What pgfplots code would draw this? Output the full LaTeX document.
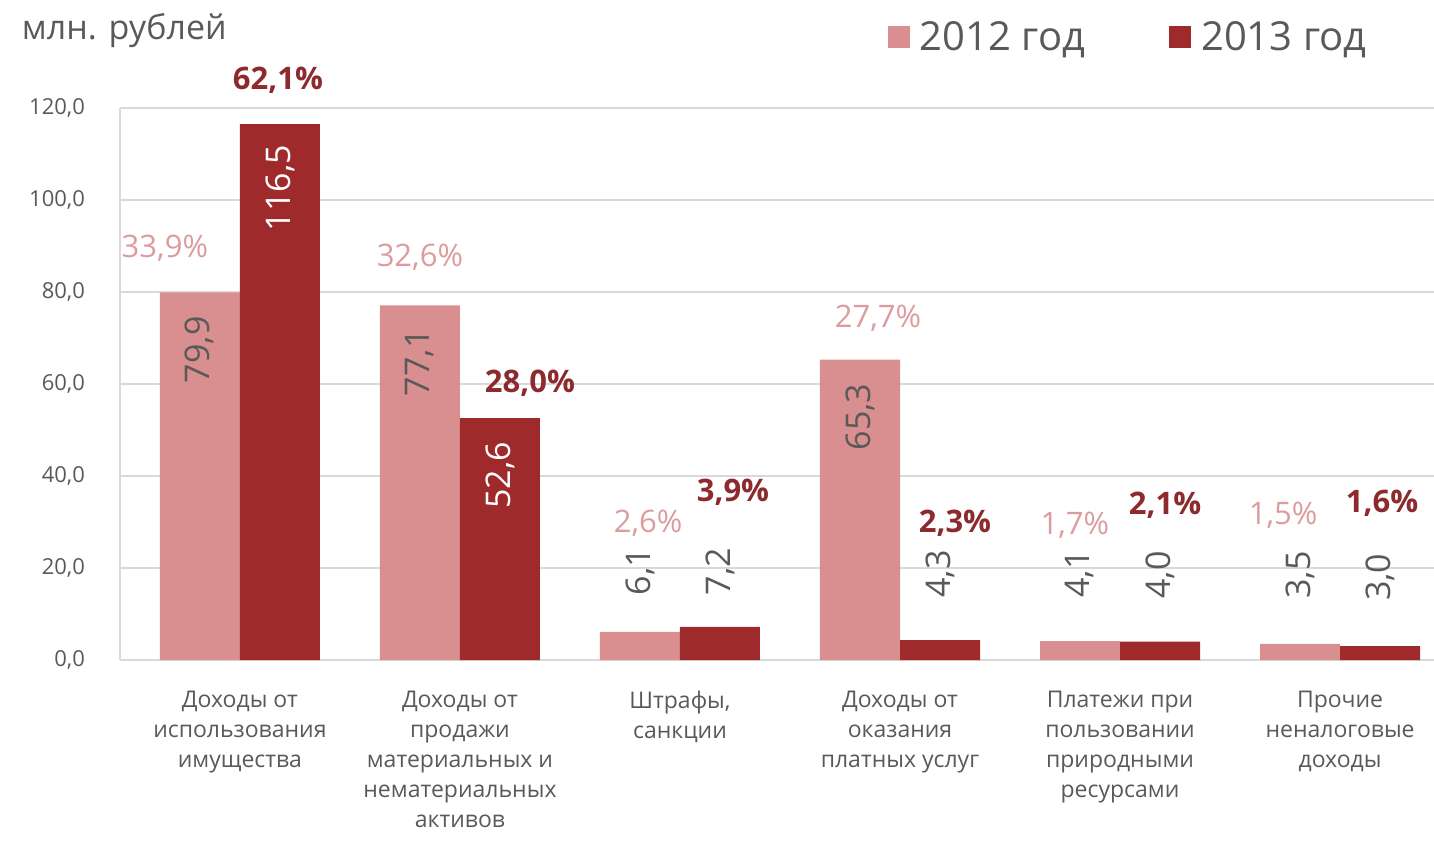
\documentclass[border=0pt]{standalone}
\usepackage{fontspec}
\setmainfont{Open Sans}
\usepackage{pgfplots}
\pgfplotsset{compat=1.18}
\definecolor{pinkbar}{HTML}{D98E8F}
\definecolor{redbar}{HTML}{9E2A2C}
\definecolor{pinklab}{HTML}{DC9C9D}
\definecolor{redlab}{HTML}{8C2A2E}
\definecolor{txtgray}{HTML}{595959}
\definecolor{gridgray}{HTML}{D9D9D9}
\begin{document}
\begin{tikzpicture}
\path[use as bounding box] (-60pt,-93pt) rectangle (657pt,330pt);
\begin{axis}[
  at={(0,0)}, anchor=south west,
  scale only axis, width=657pt, height=276pt,
  xmin=-0.545, xmax=5.427, ymin=0, ymax=120,
  clip=false,
  axis x line*=bottom, axis y line*=left,
  axis line style={-, draw=gridgray, line width=0.8pt},
  ymajorgrids, grid style={gridgray, line width=0.6pt},
  major tick length=0pt,
  ytick={0,20,...,120},
  xtick={0,...,5},
  xticklabels={{Доходы от\\использования\\имущества},{Доходы от\\продажи\\материальных и\\нематериальных\\активов},{Штрафы,\\санкции},{Доходы от\\оказания\\платных услуг},{Платежи при\\пользовании\\природными\\ресурсами},{Прочие\\неналоговые\\доходы}},
  xticklabel style={align=center, font=\fontsize{11.5}{15}\selectfont, text=txtgray, yshift=-12pt},
  yticklabel style={font=\fontsize{11}{13}\selectfont, text=txtgray, xshift=-14pt,
     /pgf/number format/.cd, fixed, fixed zerofill, precision=1, use comma, assume math mode=true},
  title={млн. рублей},
  title style={at={(-0.08,1.118)}, anchor=west, yshift=0pt, font=\fontsize{17}{20}\selectfont, text=txtgray},
  legend style={at={(0.768,1.1286)}, anchor=center, draw=none, fill=none,
     legend columns=2, font=\fontsize{20}{23}\selectfont, text=txtgray,
     /tikz/every odd column/.append style={column sep=3pt},
     /tikz/every even column/.append style={column sep=40pt}},
]
\addplot[ybar, bar width=40pt, bar shift=-20pt, fill=pinkbar, draw=none,
  legend image code/.code={\fill[pinkbar] (0pt,-5.5pt) rectangle (11pt,5.5pt);}]
  table {
x y
0 79.9
1 77.1
2 6.1
3 65.3
4 4.1
5 3.5
};
\addlegendentry{2012 год}
\addplot[ybar, bar width=40pt, bar shift=20pt, fill=redbar, draw=none,
  legend image code/.code={\fill[redbar] (0pt,-5.5pt) rectangle (11pt,5.5pt);}]
  table {
x y
0 116.5
1 52.6
2 7.2
3 4.3
4 4.0
5 3.0
};
\addlegendentry{2013 год}
% value labels inside bars (2012)
\addplot[forget plot, draw=none, mark=none, point meta=explicit symbolic,
  nodes near coords={\pgfplotspointmeta},
  every node near coord/.append style={rotate=90, anchor=east, font=\fontsize{17}{20}\selectfont, text=txtgray}]
  table[meta=m] {
x y m
-0.182 76.2 79,9
0.818 73.4 77,1
2.818 61.6 65,3
};
% value labels inside bars (2013)
\addplot[forget plot, draw=none, mark=none, point meta=explicit symbolic,
  nodes near coords={\pgfplotspointmeta},
  every node near coord/.append style={rotate=90, anchor=east, font=\fontsize{17}{20}\selectfont, text=white}]
  table[meta=m] {
x y m
0.182 113.5 116,5
1.182 48.9 52,6
};
% value labels above small bars
\addplot[forget plot, draw=none, mark=none, point meta=explicit symbolic,
  nodes near coords={\pgfplotspointmeta},
  every node near coord/.append style={rotate=90, anchor=west, font=\fontsize{17}{20}\selectfont, text=txtgray}]
  table[meta=m] {
x y m
1.818 12.5 6,1
2.182 12.5 7,2
3.182 12.0 4,3
3.818 12.0 4,1
4.182 11.8 4,0
4.818 11.8 3,5
5.182 11.3 3,0
};
% percentage labels 2012
\addplot[forget plot, draw=none, mark=none, point meta=explicit symbolic,
  nodes near coords={\pgfplotspointmeta\%},
  every node near coord/.append style={anchor=center, font=\fontsize{15.5}{18}\selectfont, text=pinklab}]
  table[meta=m] {
x y m
-0.341 89.6 33,9
0.818 87.6 32,6
1.855 29.8 2,6
2.900 74.3 27,7
3.795 29.3 1,7
4.741 31.5 1,5
};
% percentage labels 2013
\addplot[forget plot, draw=none, mark=none, point meta=explicit symbolic,
  nodes near coords={\pgfplotspointmeta\%},
  every node near coord/.append style={anchor=center, font=\bfseries\fontsize{15.5}{18}\selectfont, text=redlab}]
  table[meta=m] {
x y m
0.173 126.1 62,1
1.318 60.2 28,0
2.241 36.5 3,9
3.250 29.8 2,3
4.205 33.7 2,1
5.191 34.1 1,6
};
\end{axis}
\end{tikzpicture}
\end{document}
